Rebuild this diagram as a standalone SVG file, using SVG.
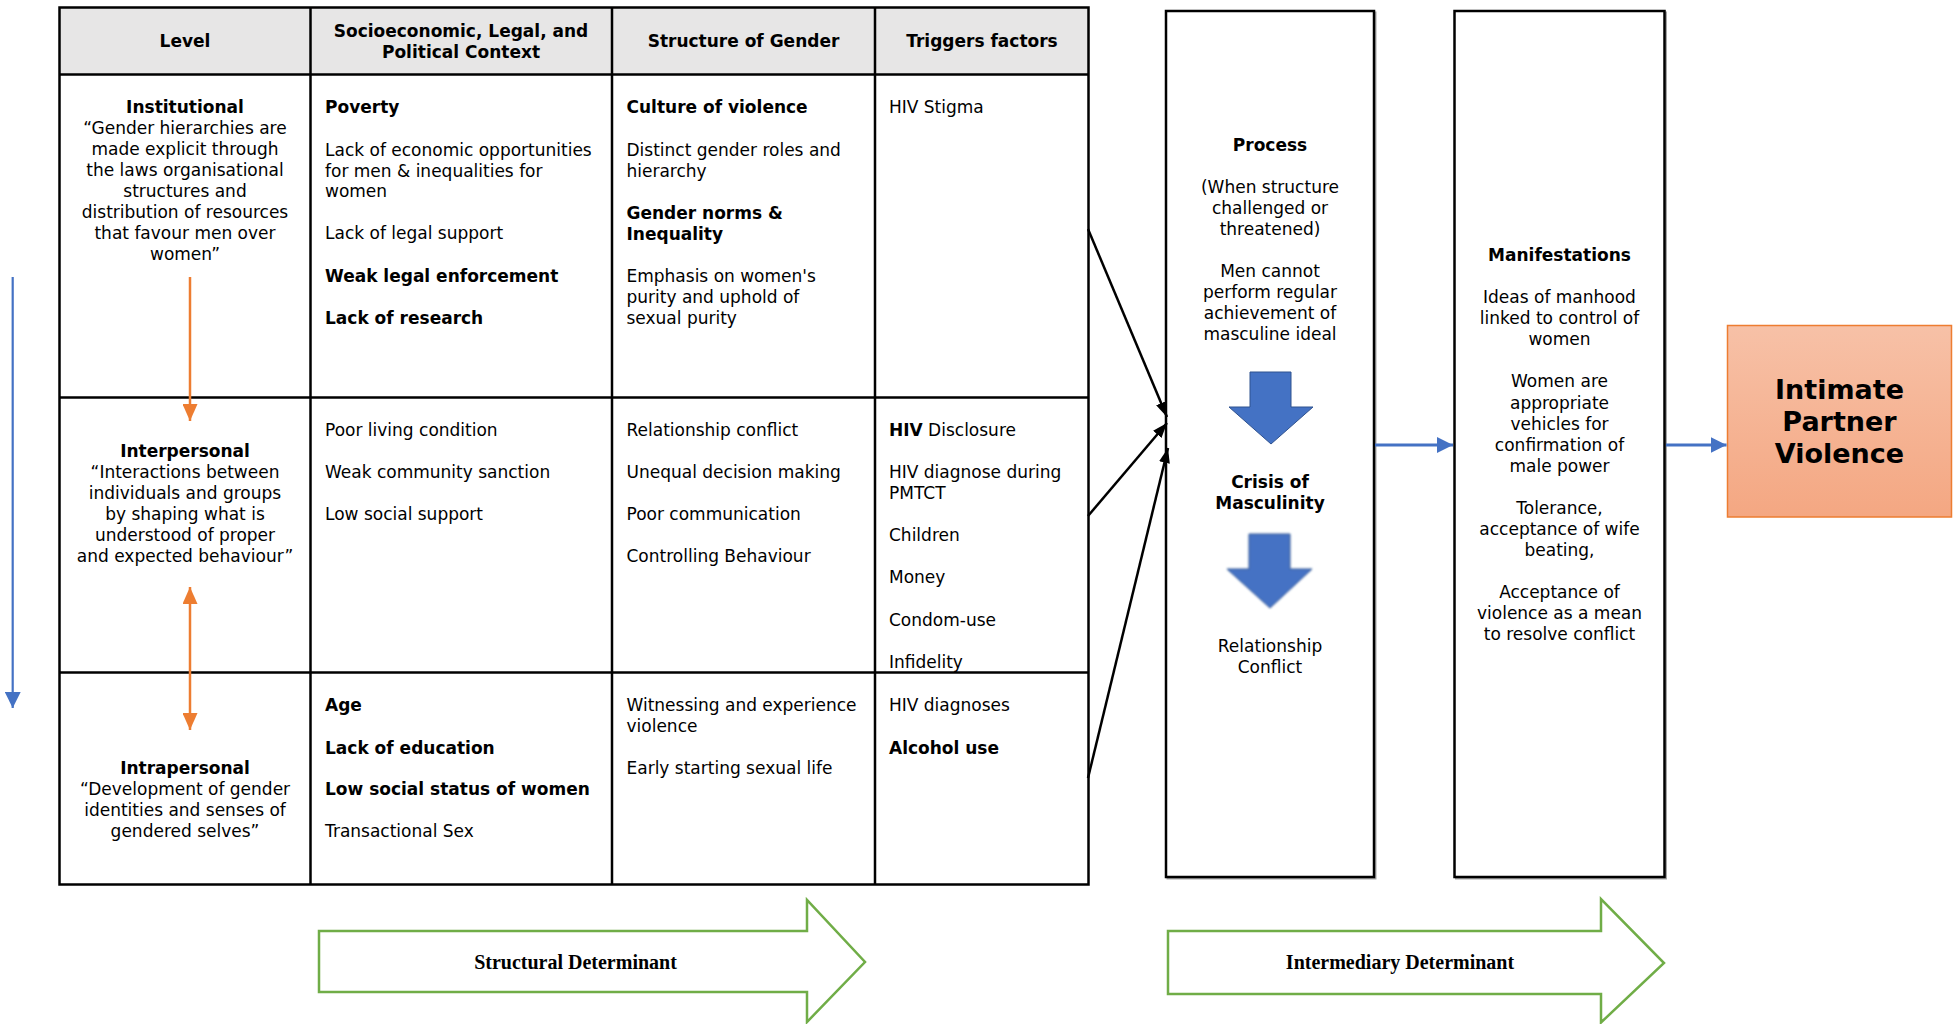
<svg xmlns="http://www.w3.org/2000/svg" width="1955" height="1024" viewBox="0 0 1955 1024">
<style>
.t{font-family:"DejaVu Sans",Verdana,"Liberation Sans",sans-serif;font-size:17px;fill:#000}
.b{font-weight:bold}
.c{text-anchor:middle}
.grid{stroke:#000;stroke-width:2.5;fill:none}
.box{fill:#fff;stroke:#000;stroke-width:2.5}
.shadow{fill:none;stroke:#a6a6a6;stroke-width:2}
.green{fill:#fff;stroke:#70AD47;stroke-width:2.5}
.serif{font-family:"Liberation Serif","Times New Roman",serif;font-size:20px;font-weight:bold;text-anchor:middle;fill:#000}
.ipv{font-family:"DejaVu Sans",Verdana,sans-serif;font-size:27px;font-weight:bold;text-anchor:middle;fill:#000}
.down{fill:#4472C4;stroke:#2F528F;stroke-width:1}
</style>
<defs>
<marker id="mOrange" markerUnits="userSpaceOnUse" viewBox="0 0 17 15" markerWidth="17" markerHeight="15" refX="17" refY="7.5" orient="auto-start-reverse"><path d="M0,0 L17,7.5 L0,15 z" fill="#ED7D31"/></marker>
<marker id="mBlue" markerUnits="userSpaceOnUse" viewBox="0 0 16 16" markerWidth="16" markerHeight="16" refX="16" refY="8" orient="auto"><path d="M0,0 L16,8 L0,16 z" fill="#4472C4"/></marker>
<marker id="mBlack" markerUnits="userSpaceOnUse" viewBox="0 0 15 11" markerWidth="15" markerHeight="11" refX="15" refY="5.5" orient="auto"><path d="M0,0 L15,5.5 L0,11 z" fill="#000"/></marker>
<linearGradient id="gIpv" x1="0" y1="0" x2="0" y2="1"><stop offset="0" stop-color="#F7C1A7"/><stop offset="1" stop-color="#F4A782"/></linearGradient>
<filter id="soft" x="-10%" y="-10%" width="120%" height="120%"><feGaussianBlur stdDeviation="0.8"/></filter>
</defs>

<g id="table">
<rect x="59.5" y="7.5" width="1029" height="67" fill="#E7E6E6"/>
<rect class="grid" x="59.5" y="7.5" width="1029" height="877"/>
<line class="grid" x1="310.5" y1="7.5" x2="310.5" y2="884.5"/>
<line class="grid" x1="612" y1="7.5" x2="612" y2="884.5"/>
<line class="grid" x1="875" y1="7.5" x2="875" y2="884.5"/>
<line class="grid" x1="59.5" y1="74.5" x2="1088.5" y2="74.5"/>
<line class="grid" x1="59.5" y1="397.5" x2="1088.5" y2="397.5"/>
<line class="grid" x1="59.5" y1="672.5" x2="1088.5" y2="672.5"/>
</g>

<g id="header">
<text class="t b c" x="185" y="47">Level</text>
<text class="t b c" x="461" y="37">Socioeconomic, Legal, and</text>
<text class="t b c" x="461" y="58">Political Context</text>
<text class="t b c" x="743.5" y="47">Structure of Gender</text>
<text class="t b c" x="982" y="47">Triggers factors</text>
</g>

<g id="level-institutional">
<text class="t b c" x="185" y="113">Institutional</text>
<text class="t c" x="185" y="134">“Gender hierarchies are</text>
<text class="t c" x="185" y="155">made explicit through</text>
<text class="t c" x="185" y="176">the laws organisational</text>
<text class="t c" x="185" y="197">structures and</text>
<text class="t c" x="185" y="218">distribution of resources</text>
<text class="t c" x="185" y="239">that favour men over</text>
<text class="t c" x="185" y="260">women”</text>
</g>
<g id="socio-institutional">
<text class="t b" x="325" y="113">Poverty</text>
<text class="t" x="325" y="156">Lack of economic opportunities</text>
<text class="t" x="325" y="177">for men &amp; inequalities for</text>
<text class="t" x="325" y="197">women</text>
<text class="t" x="325" y="239">Lack of legal support</text>
<text class="t b" x="325" y="282">Weak legal enforcement</text>
<text class="t b" x="325" y="324">Lack of research</text>
</g>
<g id="gender-institutional">
<text class="t b" x="626.5" y="113">Culture of violence</text>
<text class="t" x="626.5" y="156">Distinct gender roles and</text>
<text class="t" x="626.5" y="177">hierarchy</text>
<text class="t b" x="626.5" y="219">Gender norms &amp;</text>
<text class="t b" x="626.5" y="240">Inequality</text>
<text class="t" x="626.5" y="282">Emphasis on women's</text>
<text class="t" x="626.5" y="303">purity and uphold of</text>
<text class="t" x="626.5" y="324">sexual purity</text>
</g>
<g id="trigger-institutional">
<text class="t" x="889" y="113">HIV Stigma</text>
</g>

<g id="level-interpersonal">
<text class="t b c" x="185" y="457">Interpersonal</text>
<text class="t c" x="185" y="478">“Interactions between</text>
<text class="t c" x="185" y="499">individuals and groups</text>
<text class="t c" x="185" y="520">by shaping what is</text>
<text class="t c" x="185" y="541">understood of proper</text>
<text class="t c" x="185" y="562">and expected behaviour”</text>
</g>
<g id="socio-interpersonal">
<text class="t" x="325" y="436">Poor living condition</text>
<text class="t" x="325" y="478">Weak community sanction</text>
<text class="t" x="325" y="520">Low social support</text>
</g>
<g id="gender-interpersonal">
<text class="t" x="626.5" y="436">Relationship conflict</text>
<text class="t" x="626.5" y="478">Unequal decision making</text>
<text class="t" x="626.5" y="520">Poor communication</text>
<text class="t" x="626.5" y="562">Controlling Behaviour</text>
</g>
<g id="trigger-interpersonal">
<text class="t" x="889" y="436"><tspan class="b">HIV</tspan> Disclosure</text>
<text class="t" x="889" y="478">HIV diagnose during</text>
<text class="t" x="889" y="499">PMTCT</text>
<text class="t" x="889" y="541">Children</text>
<text class="t" x="889" y="583">Money</text>
<text class="t" x="889" y="626">Condom-use</text>
<text class="t" x="889" y="668">Infidelity</text>
</g>

<g id="level-intrapersonal">
<text class="t b c" x="185" y="774">Intrapersonal</text>
<text class="t c" x="185" y="795">“Development of gender</text>
<text class="t c" x="185" y="816">identities and senses of</text>
<text class="t c" x="185" y="837">gendered selves”</text>
</g>
<g id="socio-intrapersonal">
<text class="t b" x="325" y="711">Age</text>
<text class="t b" x="325" y="754">Lack of education</text>
<text class="t b" x="325" y="795">Low social status of women</text>
<text class="t" x="325" y="837">Transactional Sex</text>
</g>
<g id="gender-intrapersonal">
<text class="t" x="626.5" y="711">Witnessing and experience</text>
<text class="t" x="626.5" y="732">violence</text>
<text class="t" x="626.5" y="774">Early starting sexual life</text>
</g>
<g id="trigger-intrapersonal">
<text class="t" x="889" y="711">HIV diagnoses</text>
<text class="t b" x="889" y="754">Alcohol use</text>
</g>

<g id="process">
<rect class="shadow" x="1167.5" y="12.5" width="208" height="866"/>
<rect class="box" x="1166" y="11" width="208" height="866"/>
<text class="t b c" x="1270" y="151">Process</text>
<text class="t c" x="1270" y="193">(When structure</text>
<text class="t c" x="1270" y="214">challenged or</text>
<text class="t c" x="1270" y="235">threatened)</text>
<text class="t c" x="1270" y="277">Men cannot</text>
<text class="t c" x="1270" y="298">perform regular</text>
<text class="t c" x="1270" y="319">achievement of</text>
<text class="t c" x="1270" y="340">masculine ideal</text>
<polygon class="down" points="1250,372 1291,372 1291,407 1313,407 1271,444 1229,407 1250,407"/>
<text class="t b c" x="1270" y="488">Crisis of</text>
<text class="t b c" x="1270" y="509">Masculinity</text>
<polygon class="down" filter="url(#soft)" points="1249,534 1290,534 1290,569 1312,569 1270,608 1227,569 1249,569"/>
<text class="t c" x="1270" y="652">Relationship</text>
<text class="t c" x="1270" y="673">Conflict</text>
</g>

<g id="manifestations">
<rect class="shadow" x="1456" y="12.5" width="210" height="866"/>
<rect class="box" x="1454.5" y="11" width="210" height="866"/>
<text class="t b c" x="1559.5" y="261">Manifestations</text>
<text class="t c" x="1559.5" y="303">Ideas of manhood</text>
<text class="t c" x="1559.5" y="324">linked to control of</text>
<text class="t c" x="1559.5" y="345">women</text>
<text class="t c" x="1559.5" y="387">Women are</text>
<text class="t c" x="1559.5" y="409">appropriate</text>
<text class="t c" x="1559.5" y="430">vehicles for</text>
<text class="t c" x="1559.5" y="451">confirmation of</text>
<text class="t c" x="1559.5" y="472">male power</text>
<text class="t c" x="1559.5" y="514">Tolerance,</text>
<text class="t c" x="1559.5" y="535">acceptance of wife</text>
<text class="t c" x="1559.5" y="556">beating,</text>
<text class="t c" x="1559.5" y="598">Acceptance of</text>
<text class="t c" x="1559.5" y="619">violence as a mean</text>
<text class="t c" x="1559.5" y="640">to resolve conflict</text>
</g>

<g id="ipv">
<rect x="1727.5" y="325.5" width="224" height="191.5" fill="url(#gIpv)" stroke="#ED7D31" stroke-width="1.5"/>
<text class="ipv" x="1839.5" y="399">Intimate</text>
<text class="ipv" x="1839.5" y="431">Partner</text>
<text class="ipv" x="1839.5" y="463">Violence</text>
</g>

<g id="structural-determinant">
<polygon class="green" points="319,931 807,931 807,900 865,962 807,1022 807,992 319,992"/>
<text class="serif" x="575.5" y="969">Structural Determinant</text>
</g>

<g id="intermediary-determinant">
<polygon class="green" points="1168,931 1601,931 1601,899 1664,963 1601,1022.5 1601,994 1168,994"/>
<text class="serif" x="1400" y="969">Intermediary Determinant</text>
</g>

<g id="connectors">
<line x1="12.7" y1="277" x2="12.7" y2="708" stroke="#4472C4" stroke-width="2.2" marker-end="url(#mBlue)"/>
<line x1="190" y1="277" x2="190" y2="421" stroke="#ED7D31" stroke-width="2.5" marker-end="url(#mOrange)"/>
<line x1="190" y1="587" x2="190" y2="730" stroke="#ED7D31" stroke-width="2.5" marker-start="url(#mOrange)" marker-end="url(#mOrange)"/>
<line x1="1088" y1="229" x2="1167" y2="417" stroke="#000" stroke-width="2.5" marker-end="url(#mBlack)"/>
<line x1="1088" y1="516" x2="1167" y2="423" stroke="#000" stroke-width="2.5" marker-end="url(#mBlack)"/>
<line x1="1088" y1="778" x2="1168" y2="448" stroke="#000" stroke-width="2.5" marker-end="url(#mBlack)"/>
<line x1="1375" y1="445" x2="1453" y2="445" stroke="#4472C4" stroke-width="2.8" marker-end="url(#mBlue)"/>
<line x1="1666" y1="445" x2="1726.5" y2="445" stroke="#4472C4" stroke-width="2.8" marker-end="url(#mBlue)"/>
</g>
</svg>
